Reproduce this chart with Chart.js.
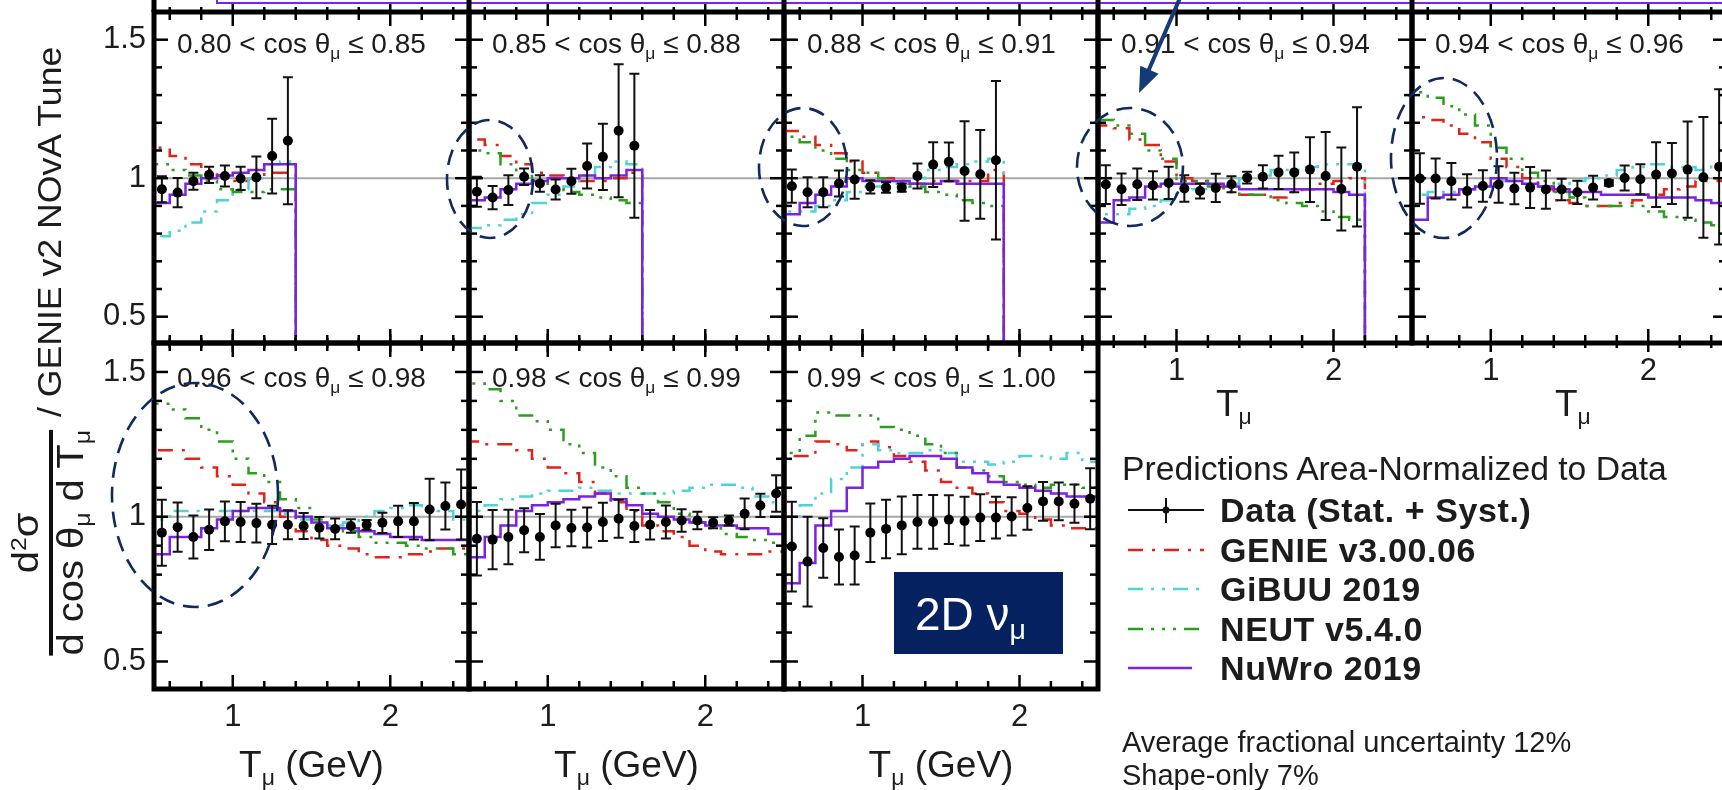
<!DOCTYPE html>
<html>
<head>
<meta charset="utf-8">
<script src="https://cdn.jsdelivr.net/npm/chart.js@4.4.1/dist/chart.umd.min.js"></script>
<style>
  html, body { margin: 0; padding: 0; background: #fff; }
  body { position: relative; width: 1722px; height: 790px; overflow: hidden;
         font-family: "Liberation Sans", Arial, Helvetica, sans-serif; color: #1c1c1c; }
  canvas { position: absolute; }
  .txt { position: absolute; white-space: nowrap; line-height: 1; }
  .sub { position: relative; top: 0.33em; font-size: 0.62em; }
  .sup { position: relative; top: -0.5em; font-size: 0.62em; }
  .ptitle { font-size: 28px; }
  .xtitle { font-size: 37px; text-align: center; }
  .lhead { font-size: 33.7px; }
  .lrow { font-size: 34px; font-weight: bold; letter-spacing: 0.6px; }
  .note { font-size: 29px; }
  #ylab { position: absolute; left: -245px; top: 295px; width: 590px; height: 84px;
          transform: rotate(-90deg) scaleX(1.08); display: flex; align-items: center; }
  #ylab .frac { display: inline-flex; flex-direction: column; align-items: center; }
  #ylab .num, #ylab .den { font-size: 37px; line-height: 32px; white-space: nowrap; }
  #ylab .bar { width: 100%; height: 4px; background: #111; margin: 3px 0 2px 0; }
  #ylab .rest { font-size: 33px; margin-left: 12px; white-space: nowrap; }
  #nubox { position: absolute; left: 894px; top: 572px; width: 169px; height: 82px; background: #06215f; color: #fff; }
  #nubox .t { position: absolute; left: 21px; top: 19px; font-size: 46px; line-height: 1; white-space: nowrap; }
  svg { position: absolute; left: 0; top: 0; }
</style>
</head>
<body>
<div id="charts"></div>
<svg id="ticks" width="1722" height="790"></svg>
<div id="texts"></div>

<div id="ylab">
  <span class="frac">
    <span class="num">d<span class="sup">2</span>σ</span>
    <span class="bar"></span>
    <span class="den">d cos θ<span class="sub">μ</span> d T<span class="sub">μ</span></span>
  </span>
  <span class="rest">/ GENIE v2 NOvA Tune</span>
</div>

<div class="txt lhead" style="left:1122px; top:452px;">Predictions Area-Normalized to Data</div>
<div class="txt lrow" style="left:1220px; top:493px;">Data (Stat. + Syst.)</div>
<div class="txt lrow" style="left:1220px; top:533px;">GENIE v3.00.06</div>
<div class="txt lrow" style="left:1220px; top:572px;">GiBUU 2019</div>
<div class="txt lrow" style="left:1220px; top:612px;">NEUT v5.4.0</div>
<div class="txt lrow" style="left:1220px; top:651px;">NuWro 2019</div>
<div class="txt note" style="left:1122px; top:728px;">Average fractional uncertainty 12%</div>
<div class="txt note" style="left:1122px; top:761px;">Shape-only 7%</div>

<div id="nubox"><span class="t">2D ν<span class="sub">μ</span></span></div>

<svg id="overlay" width="1722" height="790"></svg>

<script>
// bin centres in T_mu (GeV), shared by all panels; each panel uses the first n
const tCenters = [0.55, 0.65, 0.75, 0.85, 0.95, 1.05, 1.15, 1.25, 1.35, 1.45,
                  1.55, 1.65, 1.75, 1.85, 1.95, 2.05, 2.15, 2.25, 2.35, 2.45];
const binHalf = 0.05;

const cosLow  = ["0.80", "0.85", "0.88", "0.91", "0.94", "0.96", "0.98", "0.99"];
const cosHigh = ["0.85", "0.88", "0.91", "0.94", "0.96", "0.98", "0.99", "1.00"];

// axis ticks
const xTickVals = [0.6, 0.8, 1.0, 1.2, 1.4, 1.6, 1.8, 2.0, 2.2, 2.4];
const yTickVals = [0.5, 0.6, 0.7, 0.8, 0.9, 1.0, 1.1, 1.2, 1.3, 1.4, 1.5];
const xMajor = [1, 2];
const xMajorLabels = ["1", "2"];
const yMajor = [0.5, 1, 1.5];
const yMajorLabels = ["0.5", "1", "1.5"];

// 0.80 < cos <= 0.85
const data1  = [0.960, 0.948, 0.989, 1.012, 1.008, 0.999, 1.003, 1.080, 1.135];
const err1   = [0.047, 0.053, 0.031, 0.029, 0.038, 0.042, 0.075, 0.135, 0.229];
const genie1 = [1.11, 1.08, 1.05, 1.03, 1.01, 0.99, 1.00, 1.02, 1.02];
const gibuu1 = [0.79, 0.81, 0.84, 0.88, 0.92, 0.96, 1.00, 1.05, 1.06];
const neut1  = [1.05, 1.03, 1.01, 0.99, 0.96, 0.95, 0.95, 0.96, 0.96];
const nuwro1 = [0.91, 0.94, 0.98, 1.00, 1.01, 1.02, 1.03, 1.05, 1.05];

// 0.85 < cos <= 0.88
const data2  = [0.951, 0.930, 0.957, 1.005, 0.981, 0.959, 0.989, 1.044, 1.077, 1.171, 1.117];
const err2   = [0.054, 0.042, 0.054, 0.030, 0.030, 0.036, 0.045, 0.081, 0.120, 0.240, 0.260];
const genie2 = [1.14, 1.12, 1.08, 1.05, 1.02, 1.01, 1.00, 0.99, 0.99, 1.00, 1.02];
const gibuu2 = [0.82, 0.83, 0.85, 0.87, 0.91, 0.94, 0.97, 1.01, 1.04, 1.06, 1.05];
const neut2  = [1.10, 1.09, 1.05, 1.02, 0.99, 0.97, 0.95, 0.94, 0.93, 0.92, 0.91];
const nuwro2 = [0.92, 0.93, 0.96, 0.98, 0.99, 1.00, 1.00, 1.01, 1.00, 1.01, 1.03];

// 0.88 < cos <= 0.91
const data3  = [0.971, 0.949, 0.949, 0.981, 0.995, 0.969, 0.966, 0.966, 1.008, 1.049, 1.059, 1.026, 1.014, 1.065];
const err3   = [0.060, 0.054, 0.054, 0.047, 0.069, 0.024, 0.019, 0.015, 0.045, 0.081, 0.070, 0.180, 0.160, 0.286];
const genie3 = [1.17, 1.15, 1.12, 1.09, 1.06, 1.02, 1.00, 0.99, 0.98, 0.99, 0.99, 0.99, 0.99, 1.03];
const gibuu3 = [0.88, 0.88, 0.90, 0.92, 0.95, 0.97, 0.97, 0.98, 1.00, 1.03, 1.04, 1.05, 1.06, 1.07];
const neut3  = [1.15, 1.13, 1.10, 1.07, 1.03, 1.02, 1.00, 0.98, 0.97, 0.95, 0.94, 0.92, 0.91, 0.90];
const nuwro3 = [0.87, 0.91, 0.94, 0.97, 1.00, 0.99, 0.99, 0.99, 0.98, 0.98, 0.99, 0.98, 0.98, 0.98];

// 0.91 < cos <= 0.94
const data4  = [0.977, 0.960, 0.978, 0.974, 0.983, 0.963, 0.954, 0.965, 0.978, 1.002, 1.005, 1.021, 1.021, 1.031, 1.008, 0.961, 1.041];
const err4   = [0.070, 0.057, 0.057, 0.051, 0.058, 0.048, 0.027, 0.051, 0.029, 0.021, 0.042, 0.060, 0.072, 0.117, 0.159, 0.150, 0.215];
const genie4 = [1.19, 1.18, 1.14, 1.12, 1.06, 1.00, 0.99, 0.97, 0.95, 0.94, 0.94, 0.93, 0.95, 0.96, 0.98, 0.99, 1.00];
const gibuu4 = [0.87, 0.87, 0.89, 0.90, 0.92, 0.95, 0.96, 0.97, 0.98, 1.00, 1.01, 1.03, 1.03, 1.04, 1.05, 1.05, 1.05];
const neut4  = [1.21, 1.19, 1.16, 1.10, 1.07, 0.99, 0.99, 0.97, 0.95, 0.94, 0.94, 0.92, 0.91, 0.90, 0.88, 0.86, 0.85];
const nuwro4 = [0.84, 0.92, 0.93, 0.97, 0.98, 0.98, 0.98, 0.98, 0.97, 0.96, 0.96, 0.96, 0.96, 0.96, 0.96, 0.95, 0.94];

// 0.94 < cos <= 0.96
const data5  = [0.999, 0.999, 0.989, 0.954, 0.972, 0.977, 0.963, 0.966, 0.959, 0.959, 0.949, 0.966, 0.983, 1.001, 0.996, 1.013, 1.017, 1.031, 1.003, 1.041];
const err5   = [0.091, 0.072, 0.066, 0.060, 0.057, 0.066, 0.057, 0.074, 0.069, 0.039, 0.042, 0.043, 0.010, 0.045, 0.054, 0.117, 0.110, 0.174, 0.218, 0.280];
const genie5 = [1.22, 1.21, 1.19, 1.16, 1.13, 1.07, 1.04, 1.00, 0.96, 0.92, 0.91, 0.90, 0.90, 0.91, 0.92, 0.94, 0.96, 0.97, 0.99, 0.99];
const gibuu5 = [0.94, 0.95, 0.95, 0.96, 0.98, 0.99, 0.99, 0.98, 0.97, 0.98, 0.99, 1.00, 1.01, 1.03, 1.04, 1.05, 1.04, 1.04, 1.03, 1.05];
const neut5  = [1.31, 1.29, 1.26, 1.23, 1.19, 1.11, 1.07, 1.02, 0.99, 0.95, 0.93, 0.90, 0.90, 0.90, 0.90, 0.88, 0.86, 0.85, 0.84, 0.83];
const nuwro5 = [0.85, 0.93, 0.94, 0.96, 0.97, 1.00, 0.99, 0.98, 0.97, 0.96, 0.95, 0.95, 0.94, 0.94, 0.94, 0.93, 0.93, 0.93, 0.92, 0.91];

// 0.96 < cos <= 0.98
const data6  = [0.945, 0.964, 0.930, 0.955, 0.984, 0.982, 0.978, 0.972, 0.972, 0.968, 0.962, 0.958, 0.968, 0.972, 0.979, 0.984, 0.984, 1.025, 1.037, 1.042];
const err6   = [0.114, 0.085, 0.074, 0.070, 0.069, 0.069, 0.067, 0.066, 0.050, 0.045, 0.037, 0.036, 0.023, 0.017, 0.035, 0.054, 0.063, 0.106, 0.081, 0.121];
const genie6 = [1.23, 1.23, 1.20, 1.17, 1.14, 1.11, 1.08, 1.05, 1.00, 0.95, 0.92, 0.90, 0.89, 0.87, 0.86, 0.86, 0.87, 0.88, 0.89, 0.89];
const gibuu6 = [0.99, 1.02, 1.02, 1.02, 1.02, 1.02, 1.02, 1.02, 1.01, 0.99, 0.98, 0.97, 0.98, 1.00, 1.02, 1.03, 1.04, 1.03, 1.02, 0.99];
const neut6  = [1.39, 1.37, 1.34, 1.30, 1.26, 1.20, 1.15, 1.12, 1.06, 1.03, 0.99, 0.96, 0.95, 0.93, 0.91, 0.91, 0.90, 0.89, 0.89, 0.87];
const nuwro6 = [0.87, 0.93, 0.93, 0.96, 0.99, 1.02, 1.03, 1.03, 1.02, 1.00, 0.98, 0.96, 0.96, 0.95, 0.94, 0.93, 0.93, 0.92, 0.92, 0.92];

// 0.98 < cos <= 0.99
const data7  = [0.924, 0.921, 0.930, 0.953, 0.930, 0.970, 0.961, 0.963, 0.982, 0.993, 0.968, 0.972, 0.982, 0.987, 0.987, 0.979, 0.987, 1.010, 1.039, 1.080];
const err7   = [0.127, 0.102, 0.094, 0.076, 0.079, 0.075, 0.063, 0.069, 0.066, 0.066, 0.055, 0.051, 0.057, 0.039, 0.030, 0.019, 0.017, 0.053, 0.040, 0.063];
const genie7 = [1.26, 1.25, 1.25, 1.23, 1.20, 1.17, 1.15, 1.12, 1.08, 1.05, 1.02, 0.97, 0.95, 0.93, 0.90, 0.88, 0.87, 0.87, 0.87, 0.88];
const gibuu7 = [1.02, 1.04, 1.06, 1.07, 1.08, 1.09, 1.09, 1.10, 1.09, 1.08, 1.08, 1.08, 1.08, 1.09, 1.10, 1.11, 1.11, 1.10, 1.07, 1.05];
const neut7  = [1.46, 1.44, 1.40, 1.35, 1.33, 1.30, 1.25, 1.22, 1.17, 1.14, 1.10, 1.08, 1.05, 1.01, 0.98, 0.96, 0.94, 0.93, 0.92, 0.91];
const nuwro7 = [0.86, 0.93, 0.97, 1.02, 1.04, 1.05, 1.06, 1.07, 1.08, 1.06, 1.04, 1.01, 1.00, 0.99, 0.98, 0.97, 0.97, 0.96, 0.96, 0.94];

// 0.99 < cos <= 1.00
const data8  = [0.897, 0.845, 0.892, 0.861, 0.866, 0.945, 0.958, 0.970, 0.982, 0.982, 0.990, 0.985, 0.997, 0.997, 1.001, 1.030, 1.053, 1.053, 1.045, 1.062];
const err8   = [0.155, 0.155, 0.103, 0.095, 0.100, 0.101, 0.101, 0.100, 0.093, 0.093, 0.084, 0.084, 0.081, 0.072, 0.066, 0.075, 0.067, 0.065, 0.066, 0.105];
const genie8 = [1.21, 1.21, 1.26, 1.25, 1.23, 1.26, 1.24, 1.21, 1.19, 1.16, 1.12, 1.10, 1.08, 1.05, 1.02, 1.01, 0.99, 0.97, 0.96, 0.96];
const gibuu8 = [1.00, 1.04, 1.08, 1.13, 1.17, 1.25, 1.23, 1.22, 1.22, 1.23, 1.22, 1.19, 1.19, 1.18, 1.19, 1.21, 1.21, 1.20, 1.22, 1.19];
const neut8  = [1.22, 1.28, 1.36, 1.35, 1.35, 1.35, 1.31, 1.30, 1.28, 1.25, 1.22, 1.17, 1.16, 1.14, 1.12, 1.11, 1.10, 1.11, 1.11, 1.10];
const nuwro8 = [0.77, 0.84, 0.97, 1.02, 1.10, 1.17, 1.19, 1.20, 1.21, 1.21, 1.20, 1.17, 1.15, 1.12, 1.11, 1.10, 1.09, 1.08, 1.07, 1.07];

const dataList  = [data1, data2, data3, data4, data5, data6, data7, data8];
const errList   = [err1, err2, err3, err4, err5, err6, err7, err8];
const genieList = [genie1, genie2, genie3, genie4, genie5, genie6, genie7, genie8];
const gibuuList = [gibuu1, gibuu2, gibuu3, gibuu4, gibuu5, gibuu6, gibuu7, gibuu8];
const neutList  = [neut1, neut2, neut3, neut4, neut5, neut6, neut7, neut8];
const nuwroList = [nuwro1, nuwro2, nuwro3, nuwro4, nuwro5, nuwro6, nuwro7, nuwro8];

// styles
const RED = "#e2231a", CYAN = "#4fd3d8", GREEN = "#2a9f1d", PURPLE = "#7b22e3", NAVY = "#0f2a5c";
const dashGenie = [15, 9, 3, 9];
const dashGibuu = [15, 8, 3, 8, 3, 8];
const dashNeut = [15, 8, 3, 8, 3, 8, 3, 8];

Chart.defaults.font.family = '"Liberation Sans", Arial, sans-serif';
Chart.defaults.color = "#1c1c1c";

// margins around each plot frame inside its canvas
const ML = 80, MT = 30, MR = 30, MB = 80;
const boxes = [
  { x: 154,  y: 12,  w: 315, h: 331, yLab: true,  xLab: false, outBottom: true },
  { x: 469,  y: 12,  w: 315, h: 331, yLab: false, xLab: false, outBottom: true },
  { x: 784,  y: 12,  w: 314, h: 331, yLab: false, xLab: false, outBottom: true },
  { x: 1098, y: 12,  w: 314, h: 331, yLab: false, xLab: true,  outBottom: true },
  { x: 1412, y: 12,  w: 315, h: 331, yLab: false, xLab: true,  outBottom: true },
  { x: 154,  y: 343, w: 315, h: 346, yLab: true,  xLab: true,  outBottom: false },
  { x: 469,  y: 343, w: 315, h: 346, yLab: false, xLab: true,  outBottom: false },
  { x: 784,  y: 343, w: 314, h: 346, yLab: false, xLab: true,  outBottom: false }
];

const NS = "http://www.w3.org/2000/svg";
function add(svgEl, tag, attrs) {
  const el = document.createElementNS(NS, tag);
  Object.entries(attrs).forEach(([k, v]) => el.setAttribute(k, v));
  svgEl.appendChild(el);
  return el;
}
const tickSvg = document.getElementById("ticks");
const svg = document.getElementById("overlay");

function stepPoints(vals) {
  const pts = [{ x: 0.5, y: 0 }];
  vals.forEach((v, i) => pts.push({ x: tCenters[i] - binHalf, y: v }));
  const end = tCenters[vals.length - 1] + binHalf;
  pts.push({ x: end, y: 0 });
  if (end < 2.49) pts.push({ x: 2.5, y: 0 });
  return pts;
}

function stepSet(label, vals, color, dash) {
  return {
    label: label, data: stepPoints(vals), showLine: true, stepped: true,
    borderColor: color, borderWidth: 2.5, borderDash: dash, pointRadius: 0, fill: false
  };
}

function near(list, v) {
  return list.findIndex(m => Math.abs(m - v) < 1e-6);
}

const panelFrame = {
  id: "panelFrame",
  beforeDatasetsDraw(chart) {
    const { ctx, chartArea: a, scales: { y } } = chart;
    const py = y.getPixelForValue(1);
    ctx.save();
    ctx.strokeStyle = "#a8a8a8";
    ctx.lineWidth = 2;
    ctx.beginPath();
    ctx.moveTo(a.left, py);
    ctx.lineTo(a.right, py);
    ctx.stroke();
    ctx.restore();
  },
  beforeDatasetDraw(chart, args) {
    const ds = chart.data.datasets[args.index];
    if (!ds.errors) return;
    const { ctx, scales: { x, y } } = chart;
    ctx.save();
    ctx.strokeStyle = "#111";
    ctx.lineWidth = 2;
    ds.data.forEach((p, k) => {
      const px = x.getPixelForValue(p.x);
      const top = y.getPixelForValue(p.y + ds.errors[k]);
      const bot = y.getPixelForValue(p.y - ds.errors[k]);
      ctx.beginPath();
      ctx.moveTo(px, top); ctx.lineTo(px, bot);
      ctx.moveTo(px - 5, top); ctx.lineTo(px + 5, top);
      ctx.moveTo(px - 5, bot); ctx.lineTo(px + 5, bot);
      ctx.stroke();
    });
    ctx.restore();
  },
  afterDraw(chart) {
    const { ctx, chartArea: a } = chart;
    ctx.save();
    ctx.strokeStyle = "#000";
    ctx.lineWidth = 5;
    ctx.strokeRect(a.left, a.top, a.right - a.left, a.bottom - a.top);
    ctx.restore();
  }
};

const chartsDiv = document.getElementById("charts");
const textsDiv = document.getElementById("texts");

boxes.forEach((b, i) => {
  const cv = document.createElement("canvas");
  const W = ML + b.w + MR, H = MT + b.h + MB;
  cv.width = W; cv.height = H;
  const ox = b.x - ML, oy = b.y - MT;
  cv.style.left = ox + "px";
  cv.style.top = oy + "px";
  cv.style.width = W + "px";
  cv.style.height = H + "px";
  chartsDiv.appendChild(cv);

  const points = dataList[i].map((v, k) => ({ x: tCenters[k], y: v }));

  const chart = new Chart(cv.getContext("2d"), {
    type: "scatter",
    data: {
      datasets: [
        { label: "Data (Stat. + Syst.)", data: points, errors: errList[i], showLine: false,
          pointRadius: 5, pointHoverRadius: 5, backgroundColor: "#000", borderColor: "#000", borderWidth: 0 },
        stepSet("NuWro 2019", nuwroList[i], PURPLE, []),
        stepSet("NEUT v5.4.0", neutList[i], GREEN, dashNeut),
        stepSet("GiBUU 2019", gibuuList[i], CYAN, dashGibuu),
        stepSet("GENIE v3.00.06", genieList[i], RED, dashGenie)
      ]
    },
    options: {
      responsive: false,
      animation: false,
      devicePixelRatio: 1,
      events: [],
      layout: { padding: { top: MT, right: MR, left: 0, bottom: 0 } },
      plugins: { legend: { display: false }, tooltip: { enabled: false } },
      scales: {
        x: {
          type: "linear", min: 0.5, max: 2.5,
          grid: { display: false, drawTicks: false }, border: { display: false },
          afterBuildTicks: s => { s.ticks = xTickVals.map(v => ({ value: v })); },
          ticks: {
            display: b.xLab, autoSkip: false, maxRotation: 0, minRotation: 0, padding: 10,
            font: { size: 31 }, color: "#1c1c1c",
            callback: v => { const k = near(xMajor, v); return k >= 0 ? xMajorLabels[k] : ""; }
          },
          afterFit: s => { s.height = MB; }
        },
        y: {
          type: "linear", min: 0.405, max: 1.6,
          grid: { display: false, drawTicks: false }, border: { display: false },
          afterBuildTicks: s => { s.ticks = yTickVals.map(v => ({ value: v })); },
          ticks: {
            display: b.yLab, autoSkip: false, padding: 8,
            font: { size: 31 }, color: "#1c1c1c",
            callback: v => { const k = near(yMajor, v); return k >= 0 ? yMajorLabels[k] : ""; }
          },
          afterFit: s => { s.width = ML; }
        }
      }
    },
    plugins: [panelFrame]
  });

  // ROOT-style inward tick marks, placed from the chart's own scales
  const a = chart.chartArea;
  const sx = chart.scales.x, sy = chart.scales.y;
  xTickVals.forEach(v => {
    const major = near(xMajor, v) >= 0;
    const len = major ? 14 : 8;
    const out = major ? 9 : 5;
    const px = ox + sx.getPixelForValue(v);
    add(tickSvg, "line", { x1: px, y1: oy + a.top - out, x2: px, y2: oy + a.top + len, stroke: "#000", "stroke-width": 2.5 });
    add(tickSvg, "line", { x1: px, y1: oy + a.bottom + (b.outBottom ? out : 0), x2: px, y2: oy + a.bottom - len, stroke: "#000", "stroke-width": 2.5 });
  });
  yTickVals.forEach(v => {
    const major = near(yMajor, v) >= 0;
    const len = major ? 14 : 8;
    const py = oy + sy.getPixelForValue(v);
    add(tickSvg, "line", { x1: ox + a.left, y1: py, x2: ox + a.left + len, y2: py, stroke: "#000", "stroke-width": 2.5 });
    add(tickSvg, "line", { x1: ox + a.right, y1: py, x2: ox + a.right - len, y2: py, stroke: "#000", "stroke-width": 2.5 });
  });

  // panel title
  const tt = document.createElement("div");
  tt.className = "txt ptitle";
  tt.style.left = (b.x + 23) + "px";
  tt.style.top = (b.y + (i < 5 ? 32 : 35) - 14) + "px";
  tt.innerHTML = cosLow[i] + ' &lt; cos θ<span class="sub">μ</span> ≤ ' + cosHigh[i];
  textsDiv.appendChild(tt);

  // x axis titles under the bottom row
  if (i >= 5) {
    const xt = document.createElement("div");
    xt.className = "txt xtitle";
    xt.style.left = b.x + "px";
    xt.style.width = b.w + "px";
    xt.style.top = "746px";
    xt.innerHTML = 'T<span class="sub">μ</span> (GeV)';
    textsDiv.appendChild(xt);
  }
});

// truncated axis titles of the two right-hand top panels
[1216, 1555].forEach(left => {
  const xt = document.createElement("div");
  xt.className = "txt xtitle";
  xt.style.left = left + "px";
  xt.style.top = "385px";
  xt.innerHTML = 'T<span class="sub">μ</span>';
  textsDiv.appendChild(xt);
});

// edge of the cropped row above the figure
add(svg, "line", { x1: 217, y1: 3, x2: 1722, y2: 3, stroke: PURPLE, "stroke-width": 2 });
add(svg, "line", { x1: 217, y1: 0, x2: 217, y2: 4, stroke: PURPLE, "stroke-width": 2 });
[154, 469, 784, 1098, 1412].forEach(x => add(svg, "line", { x1: x, y1: 0, x2: x, y2: 12, stroke: "#000", "stroke-width": 5 }));

// annotations: ellipses and arrow
const rings = [[490, 179, 43, 59], [803, 167, 44, 59], [1130, 167, 53, 59], [1444, 158, 53, 80], [195, 495, 83, 112]];
rings.forEach(([cx, cy, rx, ry]) => add(svg, "ellipse", {
  cx: cx, cy: cy, rx: rx, ry: ry, fill: "none", stroke: NAVY, "stroke-width": 2.6, "stroke-dasharray": "16 9"
}));
add(svg, "line", { x1: 1180, y1: -2, x2: 1147, y2: 74, stroke: "#163a74", "stroke-width": 4 });
add(svg, "polygon", { points: "1139,93 1158.6,73.7 1140.2,65.7", fill: "#163a74" });

// legend line samples
const legendRows = [
  { y: 510, color: "#111", dash: "" },
  { y: 550, color: RED, dash: dashGenie.join(" ") },
  { y: 589, color: CYAN, dash: dashGibuu.join(" ") },
  { y: 629, color: GREEN, dash: dashNeut.join(" ") },
  { y: 668, color: PURPLE, dash: "" }
];
legendRows.forEach((r, k) => {
  add(svg, "line", { x1: 1128, y1: r.y, x2: k === 4 ? 1192 : 1204, y2: r.y, stroke: r.color,
                     "stroke-width": k === 0 ? 2 : 2.6, "stroke-dasharray": r.dash });
});
add(svg, "line", { x1: 1166, y1: 498, x2: 1166, y2: 523, stroke: "#111", "stroke-width": 2 });
add(svg, "circle", { cx: 1166, cy: 510, r: 3.5, fill: "#111" });
</script>
</body>
</html>
